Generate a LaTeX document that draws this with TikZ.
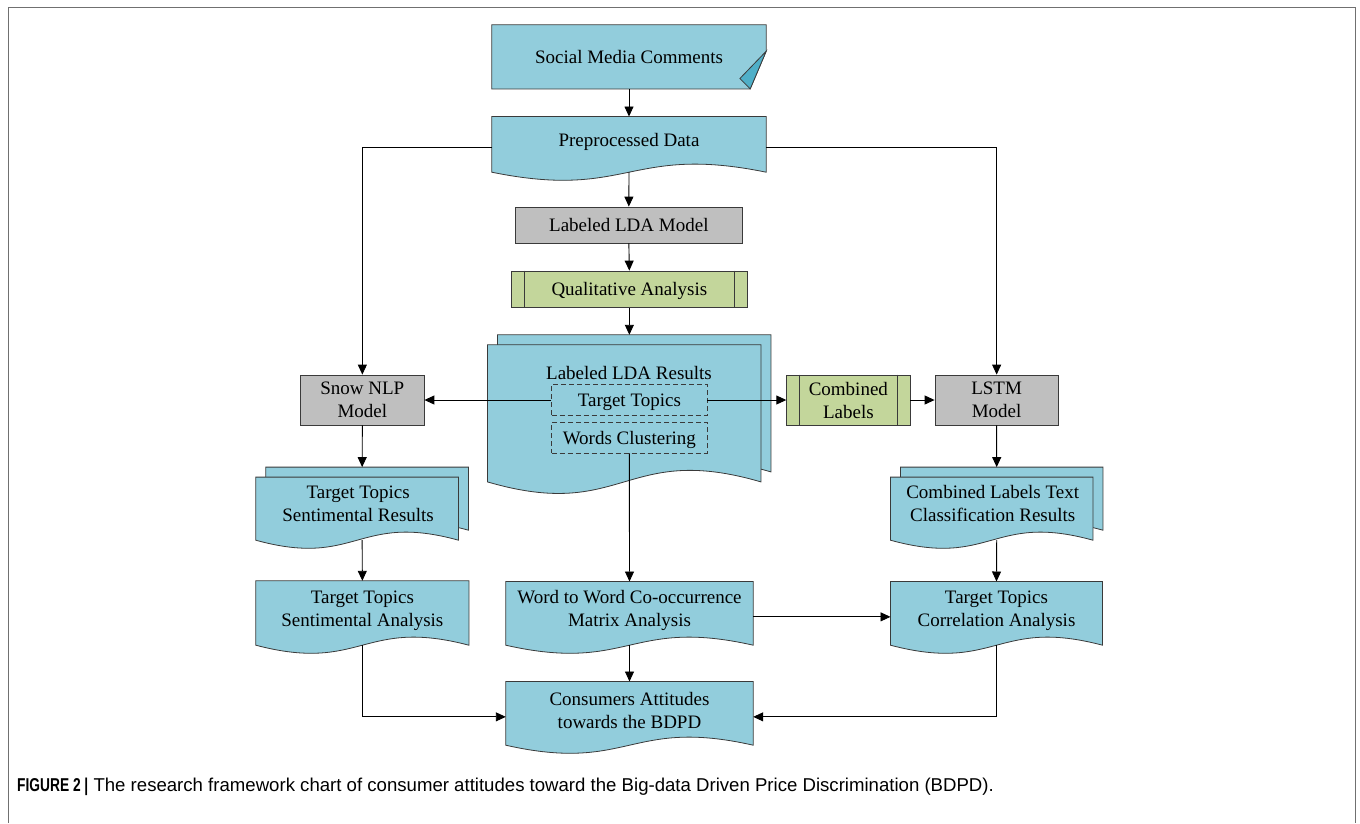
\documentclass[tikz,border=0pt]{standalone}
\usepackage{fontspec}
\setmainfont{Liberation Serif}
\newfontfamily\capfont{Liberation Sans}
\usetikzlibrary{arrows.meta,calc}

\definecolor{docblue}{HTML}{92CDDC}
\definecolor{folddark}{HTML}{4FAFC8}
\definecolor{boxgray}{HTML}{BFBFBF}
\definecolor{boxgreen}{HTML}{C3D69B}
\definecolor{outline}{HTML}{3A3A3A}
\definecolor{framegray}{HTML}{707070}

\tikzset{
  txt/.style={inner sep=0pt, align=center, font=\fontsize{19}{23}\selectfont},
  area/.style={rectangle, draw=none, inner sep=0pt},
  sheet/.style={fill=docblue, draw=outline, line width=0.8pt, line join=miter},
  graybox/.style={rectangle, fill=boxgray, draw=outline, line width=0.8pt, inner sep=0pt,
    align=center, font=\fontsize{19}{23}\selectfont},
  greenbox/.style={rectangle, fill=boxgreen, draw=outline, line width=0.8pt, inner sep=0pt,
    align=center, font=\fontsize{19}{23}\selectfont},
  dashbox/.style={rectangle, draw=outline, line width=0.8pt, dash pattern=on 5pt off 3pt,
    inner sep=0pt, text depth=0pt, font=\fontsize{19}{23}\selectfont},
  conn/.style={draw=black, line width=0.9pt, -{Triangle[length=10pt,width=9pt]}},
}

% document sheet with a wavy bottom edge on node #1; #2 = wave control offset
\newcommand{\docshape}[2]{%
  \path[sheet] (#1.north west) -- (#1.north east) -- (#1.south east)
    .. controls ($(#1.south)+(0,-#2)$) and ($(#1.south)+(0,#2)$) .. (#1.south west) -- cycle;}

% stacked documents on node #1; #2 = sheet offset, #3 = wave control offset
\newcommand{\multidoc}[3]{%
  \path[sheet] ($(#1.north west)+(#2,0)$) -- (#1.north east) -- ($(#1.south east)+(0,-#2)$)
    .. controls ($(#1.south)+(#2/2,-#2-#3)$) and ($(#1.south)+(#2/2,-#2+#3)$)
    .. ($(#1.south west)+(#2,-#2)$) -- cycle;
  \path[sheet] ($(#1.north west)+(0,#2)$) -- ($(#1.north east)+(-#2,#2)$) -- ($(#1.south east)+(-#2,0)$)
    .. controls ($(#1.south)+(-#2/2,-#3)$) and ($(#1.south)+(-#2/2,#3)$)
    .. (#1.south west) -- cycle;}

% process box with the two inner side bars
\newcommand{\sidebars}[1]{%
  \draw[outline, line width=0.8pt] ($(#1.north west)+(13.5,0)$) -- ($(#1.south west)+(13.5,0)$);
  \draw[outline, line width=0.8pt] ($(#1.north east)+(-13.5,0)$) -- ($(#1.south east)+(-13.5,0)$);}

\begin{document}
\begin{tikzpicture}[x=1pt, y=-1pt]
\useasboundingbox (0,0) rectangle (1360,823);

% outer frame (open at the bottom)
\draw[framegray, line width=1.6pt] (8.5,823) -- (8.5,7.5) -- (1355.5,7.5) -- (1355.5,823);

% ---- top column ----
\node[area, minimum width=274, minimum height=63.7] (smc) at (629,56.85) {};
\path[sheet] (smc.north west) -- (smc.north east) -- ($(smc.south east)+(0,-37.7)$)
  -- ($(smc.south east)+(-16,0)$) -- (smc.south west) -- cycle;
\path[fill=folddark, draw=outline, line width=0.8pt, line join=miter]
  ($(smc.south east)+(0,-37.7)$) -- ($(smc.south east)+(-16,0)$) -- ($(smc.south east)+(-26.3,-10.4)$) -- cycle;
\node[txt] at (smc.center) {Social Media Comments};

\node[area, minimum width=274, minimum height=55.3] (pre) at (629,144.35) {};
\docshape{pre}{28}
\node[txt] at ([yshift=2.5pt]pre.center) {Preprocessed Data};

\node[graybox, minimum width=227.7, minimum height=36] (lda) at (628.85,225) {Labeled LDA Model};
\node[greenbox, minimum width=236.7, minimum height=36.7, text depth=0pt] (qa) at (629.35,289.35) {Qualitative Analysis};
\sidebars{qa}

% ---- labeled LDA results ----
\node[area, minimum width=283, minimum height=146.7] (ldar) at (629.2,408.35) {};
\multidoc{ldar}{10}{40}
\node[txt] (ldartitle) at (629,372.5) {Labeled LDA Results};
\node[dashbox, minimum width=155.3, minimum height=31.4] (tt) at (629.35,400) {Target Topics};
\node[dashbox, minimum width=155.3, minimum height=30.7] (wc) at (629.35,437.65) {Words Clustering};

% ---- left column ----
\node[graybox, minimum width=123.3, minimum height=50] (snow) at (362.35,400) {Snow NLP\\Model};
\node[area, minimum width=212.3, minimum height=72.7] (ttsr) at (362.15,503.65) {};
\multidoc{ttsr}{10}{28}
\node[txt] at ([xshift=-4pt]ttsr.center) {Target Topics\\Sentimental Results};

\node[area, minimum width=212.7, minimum height=64] (ttsa) at (362.35,613) {};
\docshape{ttsa}{28}
\node[txt] at ([yshift=2.5pt]ttsa.center) {Target Topics\\Sentimental Analysis};

% ---- right column ----
\node[greenbox, minimum width=123.3, minimum height=50] (cl) at (848.35,400) {Combined\\Labels};
\sidebars{cl}
\node[graybox, minimum width=123.3, minimum height=50] (lstm) at (996.65,400) {LSTM\\Model};
\node[area, minimum width=212, minimum height=72.7] (cltcr) at (996.7,503.65) {};
\multidoc{cltcr}{10}{28}
\node[txt] at ([xshift=-4pt]cltcr.center) {Combined Labels Text\\Classification Results};

\node[area, minimum width=211.6, minimum height=63.3] (ttca) at (996.5,613.35) {};
\docshape{ttca}{28}
\node[txt] at ([yshift=2.5pt]ttca.center) {Target Topics\\Correlation Analysis};

% ---- bottom of the centre column ----
\node[area, minimum width=247, minimum height=63.3] (wtw) at (629.5,613.35) {};
\docshape{wtw}{28}
\node[txt] at ([yshift=2.5pt]wtw.center) {Word to Word Co-occurrence\\Matrix Analysis};

\node[area, minimum width=247, minimum height=63.3] (cons) at (629.5,713.35) {};
\docshape{cons}{28}
\node[txt] at ([yshift=2.5pt]cons.center) {Consumers Attitudes\\towards the BDPD};

% ---- connectors ----
\draw[conn] (smc.south) -- (pre.north);
\draw[conn] (pre.south) -- (lda.north);
\draw[conn] (lda.south) -- (qa.north);
\draw[conn] (qa.south) -- (qa.south |- ldar.north);
\draw[conn] ([yshift=-3.5pt]pre.west) -| (snow.north);
\draw[conn] ([yshift=-3.5pt]pre.east) -| (lstm.north);
\draw[conn] (tt.west) -- (snow.east);
\draw[conn] (tt.east) -- (cl.west);
\draw[conn] (cl.east) -- (lstm.west);
\draw[conn] (snow.south) -- (ttsr.north);
\draw[conn] (ttsr.south) -- (ttsa.north);
\draw[conn] (lstm.south) -- (cltcr.north);
\draw[conn] (cltcr.south) -- (ttca.north);
\draw[conn] (wc.south) -- (wtw.north);
\draw[conn] (wtw.south) -- (cons.north);
\draw[conn] ([yshift=-3.5pt]wtw.east) -- ([yshift=-3.5pt]ttca.west);
\draw[conn] (ttsa.south) |- ([yshift=-3.5pt]cons.west);
\draw[conn] (ttca.south) |- ([yshift=-3.5pt]cons.east);

% ---- caption ----
\node[anchor=west, inner sep=0pt, font=\capfont\fontsize{18.6}{22}\selectfont] (caption) at (17,786.5)
  {\scalebox{0.74}[1]{\bfseries FIGURE 2 |} The research framework chart of consumer attitudes toward the Big-data Driven Price Discrimination (BDPD).};
\end{tikzpicture}
\end{document}
